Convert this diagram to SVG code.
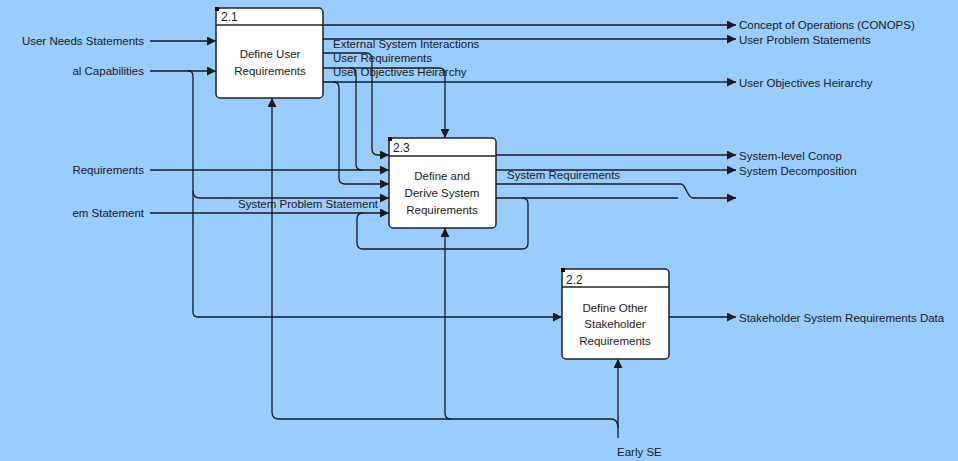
<svg xmlns="http://www.w3.org/2000/svg" width="958" height="461" viewBox="0 0 958 461">
<defs>
<marker id="arr" viewBox="0 0 10 10" refX="10" refY="5" markerWidth="9" markerHeight="9" markerUnits="userSpaceOnUse" orient="auto">
<path d="M0,0 L10,5 L0,10 Z" fill="#1a1a1a"/>
</marker>
</defs>
<style>
text{font-family:"Liberation Sans",Arial,sans-serif;font-size:11.5px;fill:#1a1a1a}
.end{text-anchor:end}
.mid{text-anchor:middle}
.box{fill:#fff;stroke:#222;stroke-width:1.5}
.hdr{stroke:#222;stroke-width:1.3;fill:none}
.c{fill:none;stroke:#1a1a1a;stroke-width:1.3}
.a{marker-end:url(#arr)}
.num{font-size:12px}
</style>
<rect x="0" y="0" width="958" height="461" fill="#99ccff"/>

<g id="connectors">
<path class="c a" d="M150,41 H216"/>
<path class="c a" d="M150,71 H216"/>
<path class="c a" d="M188,71 Q193,71 193,76 V312 Q193,317 198,317 H562"/>
<path class="c a" d="M193,191 Q193,198 200,198 H389"/>
<path class="c a" d="M150,170 H389"/>
<path class="c a" d="M150,213 H389"/>
<path class="c a" d="M323,25 H736"/>
<path class="c a" d="M323,39 H736"/>
<path class="c a" d="M323,53 H366 Q372,53 372,59 V149 Q372,155 378,155 H389"/>
<path class="c a" d="M323,68 H439 Q445,68 445,74 V138"/>
<path class="c" d="M350,68 Q356,68 356,74 V164 Q356,170 362,170"/>
<path class="c a" d="M323,82 H736"/>
<path class="c a" d="M333,82 Q339,82 339,88 V178 Q339,184 345,184 H389"/>
<path class="c a" d="M496,155 H736"/>
<path class="c a" d="M496,170 H736"/>
<path class="c a" d="M496,184 H681 C686,184 687,198 693,198 H736"/>
<path class="c" d="M496,198 H678"/>
<path class="c" d="M522,198 Q528,198 528,204 V243 Q528,249 522,249 H363 Q357,249 357,243 V219 Q357,213 363,213"/>
<path class="c a" d="M618,438 V359"/>
<path class="c a" d="M618,428 Q618,419 611,419 H279 Q272,419 272,412 V98"/>
<path class="c a" d="M451,419 Q445,419 445,413 V228"/>
<path class="c a" d="M669,317 H736"/>
</g>

<g id="labels">
<text class="end" x="144" y="45">User Needs Statements</text>
<text class="end" x="144" y="75">al Capabilities</text>
<text class="end" x="144" y="174">Requirements</text>
<text class="end" x="144" y="217">em Statement</text>
<text x="238" y="208">System Problem Statement</text>
<text x="333" y="48">External System Interactions</text>
<text x="333" y="62">User Requirements</text>
<text x="333" y="76">User Objectives Heirarchy</text>
<text x="739" y="29">Concept of Operations (CONOPS)</text>
<text x="739" y="44">User Problem Statements</text>
<text x="739" y="87">User Objectives Heirarchy</text>
<text x="739" y="160">System-level Conop</text>
<text x="739" y="175">System Decomposition</text>
<text x="507" y="179">System Requirements</text>
<text x="739" y="322">Stakeholder System Requirements Data</text>
<text x="617" y="456">Early SE</text>
</g>

<g id="node-2-1">
<rect class="box" x="216" y="8" width="107" height="90" rx="4"/>
<line class="hdr" x1="216" y1="25" x2="323" y2="25"/>
<rect x="215" y="7" width="4" height="4" fill="#000"/>
<text class="num" x="221" y="21">2.1</text>
<text class="mid" x="270" y="58">Define User</text>
<text class="mid" x="270" y="75">Requirements</text>
</g>

<g id="node-2-3">
<rect class="box" x="389" y="138" width="107" height="90" rx="4"/>
<line class="hdr" x1="389" y1="156" x2="496" y2="156"/>
<rect x="388" y="137" width="4" height="4" fill="#000"/>
<text class="num" x="393" y="152">2.3</text>
<text class="mid" x="442" y="180">Define and</text>
<text class="mid" x="442" y="197">Derive System</text>
<text class="mid" x="442" y="214">Requirements</text>
</g>

<g id="node-2-2">
<rect class="box" x="562" y="269" width="107" height="90" rx="4"/>
<line class="hdr" x1="562" y1="287" x2="669" y2="287"/>
<rect x="561" y="268" width="4" height="4" fill="#000"/>
<text class="num" x="566" y="284">2.2</text>
<text class="mid" x="615" y="312">Define Other</text>
<text class="mid" x="615" y="328">Stakeholder</text>
<text class="mid" x="615" y="345">Requirements</text>
</g>
</svg>
